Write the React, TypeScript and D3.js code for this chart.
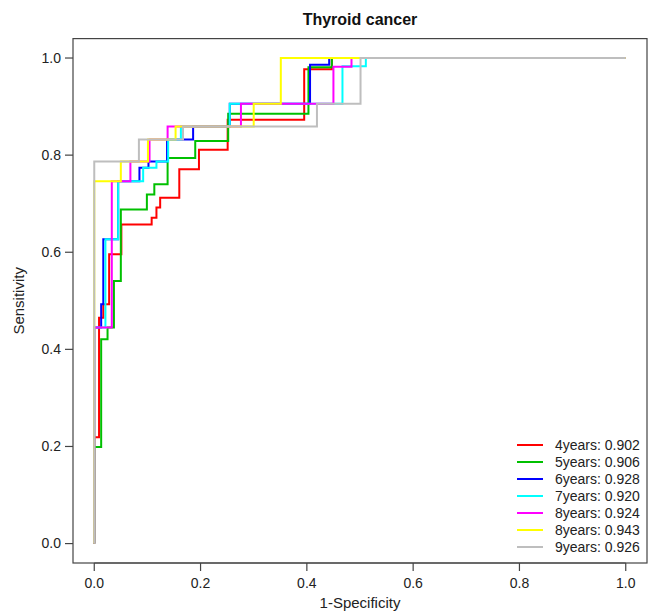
import React from "react";
import * as d3 from "d3";

const TITLE = "Thyroid cancer";
const X_LABEL = "1-Specificity";
const Y_LABEL = "Sensitivity";
const TICKS = [0, 0.2, 0.4, 0.6, 0.8, 1.0];

const seriesNames = ["4years: 0.902", "5years: 0.906", "6years: 0.928", "7years: 0.920", "8years: 0.924", "8years: 0.943", "9years: 0.926"];
const seriesColors = ["#ff0000", "#00c000", "#0000ff", "#00ffff", "#ff00ff", "#ffff00", "#bebebe"];

// step knots: at fpr[i] the sensitivity rises to tpr[i]
const red_fpr = [0, 0, 0.009, 0.017, 0.028, 0.051, 0.108, 0.117, 0.124, 0.160, 0.197, 0.251, 0.395, 0.447, 1];
const red_tpr = [0, 0.219, 0.465, 0.493, 0.596, 0.657, 0.671, 0.692, 0.712, 0.771, 0.811, 0.873, 0.977, 1, 1];
const green_fpr = [0, 0, 0.013, 0.025, 0.037, 0.050, 0.099, 0.113, 0.138, 0.190, 0.252, 0.403, 0.447, 1];
const green_tpr = [0, 0.199, 0.421, 0.445, 0.541, 0.688, 0.719, 0.740, 0.794, 0.829, 0.885, 0.981, 1, 1];
const blue_fpr = [0, 0, 0.013, 0.017, 0.045, 0.085, 0.102, 0.137, 0.186, 0.255, 0.406, 0.442, 1];
const blue_tpr = [0, 0.445, 0.493, 0.627, 0.746, 0.774, 0.787, 0.832, 0.859, 0.906, 0.986, 1, 1];
const cyan_fpr = [0, 0, 0.021, 0.045, 0.092, 0.117, 0.139, 0.163, 0.255, 0.467, 0.511, 1];
const cyan_tpr = [0, 0.445, 0.627, 0.746, 0.774, 0.787, 0.832, 0.859, 0.906, 0.983, 1, 1];
const magenta_fpr = [0, 0, 0.033, 0.068, 0.104, 0.138, 0.276, 0.450, 0.484, 1];
const magenta_tpr = [0, 0.445, 0.746, 0.787, 0.832, 0.859, 0.906, 0.982, 1, 1];
const yellow_fpr = [0, 0, 0.050, 0.101, 0.153, 0.300, 0.351, 1];
const yellow_tpr = [0, 0.746, 0.787, 0.832, 0.859, 0.906, 1, 1];
const gray_fpr = [0, 0, 0.084, 0.167, 0.419, 0.501, 1];
const gray_tpr = [0, 0.787, 0.832, 0.859, 0.906, 1, 1];

const seriesFpr = [red_fpr, green_fpr, blue_fpr, cyan_fpr, magenta_fpr, yellow_fpr, gray_fpr];
const seriesTpr = [red_tpr, green_tpr, blue_tpr, cyan_tpr, magenta_tpr, yellow_tpr, gray_tpr];

const W = 651;
const H = 611;
const BOX = { left: 73, right: 647, top: 38.6, bottom: 563 };
const FONT = "'Liberation Sans', Arial, sans-serif";
const AXIS = "#444";

export default function App() {
  const x = d3.scaleLinear().domain([-0.04, 1.04]).range([BOX.left, BOX.right]);
  const y = d3.scaleLinear().domain([-0.04, 1.04]).range([BOX.bottom, BOX.top]);
  const line = d3
    .line<[number, number]>()
    .x((d) => x(d[0]))
    .y((d) => y(d[1]))
    .curve(d3.curveStepAfter);

  const legendX0 = 517;
  const legendX1 = 543;
  const legendTextX = 555;
  const legendY0 = 445;
  const legendDy = 17;

  return (
    <svg
      width={W}
      height={H}
      style={{ position: "absolute", left: 0, top: 0, background: "#fff" }}
      fontFamily={FONT}
    >
      <rect x={0} y={0} width={W} height={H} fill="#fff" />
      <text x={(BOX.left + BOX.right) / 2} y={25} textAnchor="middle" fontWeight="bold" fontSize={16} fill="#111">
        {TITLE}
      </text>
      {/* curves */}
      <g fill="none" strokeWidth={2}>
        {seriesFpr.map((fpr, i) => {
          const pts: [number, number][] = fpr.map((f, j) => [f, seriesTpr[i][j]]);
          return <path key={i} d={line(pts) || ""} stroke={seriesColors[i]} />;
        })}
      </g>
      {/* box */}
      <rect
        x={BOX.left}
        y={BOX.top}
        width={BOX.right - BOX.left}
        height={BOX.bottom - BOX.top}
        fill="none"
        stroke={AXIS}
        strokeWidth={1.2}
      />
      {/* x axis */}
      <line x1={x(0)} x2={x(1)} y1={BOX.bottom} y2={BOX.bottom} stroke={AXIS} strokeWidth={1.2} />
      {TICKS.map((t) => (
        <g key={"x" + t}>
          <line x1={x(t)} x2={x(t)} y1={BOX.bottom} y2={BOX.bottom + 8} stroke={AXIS} strokeWidth={1.2} />
          <text x={x(t)} y={588} textAnchor="middle" fontSize={14} fill="#222">
            {t.toFixed(1)}
          </text>
        </g>
      ))}
      {/* y axis */}
      {TICKS.map((t) => (
        <g key={"y" + t}>
          <line x1={BOX.left - 8} x2={BOX.left} y1={y(t)} y2={y(t)} stroke={AXIS} strokeWidth={1.2} />
          <text x={61} y={y(t)} dy="0.35em" textAnchor="end" fontSize={14} fill="#222">
            {t.toFixed(1)}
          </text>
        </g>
      ))}
      <text x={(BOX.left + BOX.right) / 2} y={608} textAnchor="middle" fontSize={15} fill="#222">
        {X_LABEL}
      </text>
      <text
        transform={`translate(24, ${(BOX.top + BOX.bottom) / 2}) rotate(-90)`}
        textAnchor="middle"
        fontSize={15}
        fill="#222"
      >
        {Y_LABEL}
      </text>
      {/* legend */}
      {seriesNames.map((name, i) => (
        <g key={name + i}>
          <line
            x1={legendX0}
            x2={legendX1}
            y1={legendY0 + i * legendDy}
            y2={legendY0 + i * legendDy}
            stroke={seriesColors[i]}
            strokeWidth={2}
          />
          <text x={legendTextX} y={legendY0 + i * legendDy} dy="0.35em" fontSize={14} fill="#222">
            {name}
          </text>
        </g>
      ))}
    </svg>
  );
}
